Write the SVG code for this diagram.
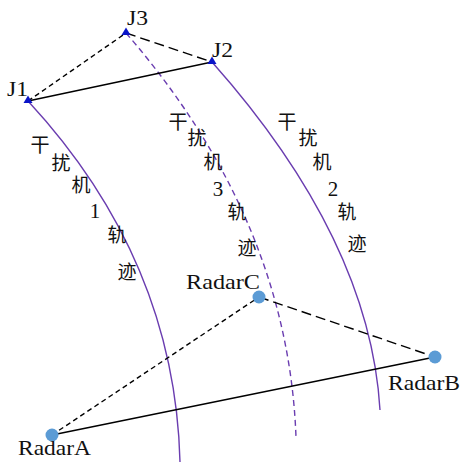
<svg xmlns="http://www.w3.org/2000/svg" width="462" height="462" viewBox="0 0 462 462">
<style>
.trk{fill:none;stroke:#6a3db0;stroke-width:1.4}
.trkd{fill:none;stroke:#6a3db0;stroke-width:1.4;stroke-dasharray:6,4}
.ln{stroke:#000;stroke-width:1.4;fill:none}
.sd{stroke-dasharray:5,3.5}
.ld{stroke-dasharray:10,5}
.lbl{font-family:"Liberation Serif",serif;font-size:21px;fill:#111}
.cn{font-family:"Liberation Serif","Noto Sans CJK SC",serif;font-size:19px;fill:#111;text-anchor:middle}
.dg{font-family:"Liberation Serif",serif;font-size:21px;fill:#111;text-anchor:middle}
.tri{fill:#0a14c8}
.rad{fill:#5b9bd5}
</style>
<rect width="462" height="462" fill="#fff"/>
<g id="tracks">
<path class="trk" d="M28,101 Q175,260 180,462"/>
<path class="trkd" d="M126,33 Q288,220 296,437"/>
<path class="trk" d="M212,62 Q370,240 380,410"/>
</g>
<g id="connectors">
<line class="ln" x1="28" y1="101" x2="212" y2="62"/>
<line class="ln sd" x1="28" y1="101" x2="126" y2="33"/>
<line class="ln ld" x1="126" y1="33" x2="212" y2="62"/>
<line class="ln" x1="52" y1="435" x2="435" y2="357"/>
<line class="ln sd" x1="52" y1="435" x2="259" y2="297"/>
<line class="ln ld" x1="259" y1="297" x2="435" y2="357"/>
</g>
<g id="J1"><polygon class="tri" points="28,95.5 23.5,103 32.5,103"/><text class="lbl" x="7" y="96" textLength="21" lengthAdjust="spacingAndGlyphs">J1</text></g>
<g id="J2"><polygon class="tri" points="212,56.5 207.5,64 216.5,64"/><text class="lbl" x="212" y="57" textLength="21" lengthAdjust="spacingAndGlyphs">J2</text></g>
<g id="J3"><polygon class="tri" points="126,27.5 121.5,35 130.5,35"/><text class="lbl" x="127" y="25" textLength="21" lengthAdjust="spacingAndGlyphs">J3</text></g>
<g id="RadarA"><circle class="rad" cx="52" cy="435" r="6.5"/><text class="lbl" x="18" y="455" textLength="73" lengthAdjust="spacingAndGlyphs">RadarA</text></g>
<g id="RadarB"><circle class="rad" cx="435" cy="357" r="6.5"/><text class="lbl" x="388" y="390" textLength="72" lengthAdjust="spacingAndGlyphs">RadarB</text></g>
<g id="RadarC"><circle class="rad" cx="259" cy="297" r="6.5"/><text class="lbl" x="186" y="289" textLength="74" lengthAdjust="spacingAndGlyphs">RadarC</text></g>
<g id="label1">
<text class="cn" x="40" y="152">干</text>
<text class="cn" x="61" y="170">扰</text>
<text class="cn" x="81" y="192">机</text>
<text class="dg" x="95" y="218">1</text>
<text class="cn" x="117" y="242">轨</text>
<text class="cn" x="127" y="279">迹</text>
</g>
<g id="label3">
<text class="cn" x="178" y="129">干</text>
<text class="cn" x="197" y="145">扰</text>
<text class="cn" x="213" y="169">机</text>
<text class="dg" x="218" y="196">3</text>
<text class="cn" x="237" y="219">轨</text>
<text class="cn" x="247" y="255">迹</text>
</g>
<g id="label2">
<text class="cn" x="287" y="129">干</text>
<text class="cn" x="308" y="145">扰</text>
<text class="cn" x="322" y="169">机</text>
<text class="dg" x="333" y="196">2</text>
<text class="cn" x="347" y="219">轨</text>
<text class="cn" x="357" y="251">迹</text>
</g>
</svg>
